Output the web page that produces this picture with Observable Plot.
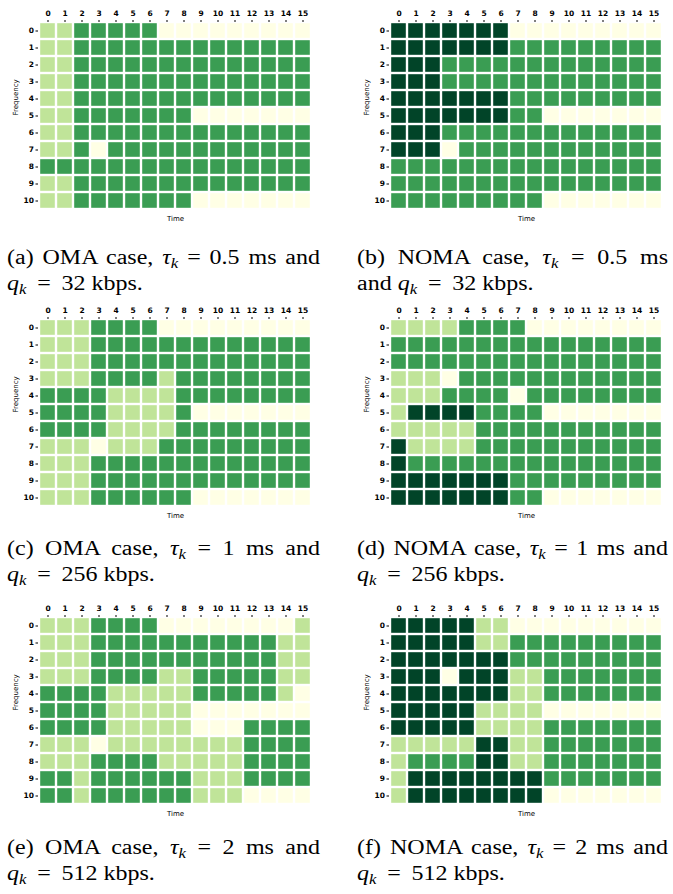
<!DOCTYPE html>
<html>
<head>
<meta charset="utf-8">
<script src="https://cdn.jsdelivr.net/npm/d3@7"></script>
<script src="https://cdn.jsdelivr.net/npm/@observablehq/plot@0.6"></script>
<style>
  html, body { margin: 0; padding: 0; background: #fff; }
  #page { position: relative; width: 673px; height: 894px; overflow: hidden; }
  .panel { position: absolute; width: 330px; height: 225px; }
  .panel svg { max-width: none !important; }
  .cap { position: absolute; font-family: "Liberation Serif", "Times New Roman", serif; font-size: 20.5px; line-height: 20px; white-space: nowrap; color: #000; transform: scaleX(1.17); transform-origin: 0 0; }
  .cap.j { text-align: justify; text-align-last: justify; white-space: normal; }
  .cap i { font-style: italic; }
  .cap sub { font-size: 70%; vertical-align: -0.3em; line-height: 0; }
  .cap .eq { margin: 0 0.2em; }
</style>
</head>
<body>
<div id="page"></div>
<script>
// Tick labels
const timeLabels = d3.range(16);   // 0..15
const freqLabels = d3.range(11);   // 0..10
// Levels: Y = empty, L = light, M = medium, D = dark
const levels = ["Y", "L", "M", "D"];
const levelColors = ["#ffffe5", "#c0e499", "#3a9d53", "#014428"];

// (a) OMA, tau=0.5 ms, q=32 kbps
const gridA = [
  "LLMMMMMYYYYYYYYY",
  "LLMMMMMMMMMMMMMM",
  "LLMMMMMMMMMMMMMM",
  "LLMMMMMMMMMMMMMM",
  "LLMMMMMMMMMMMMMM",
  "LLMMMMMMMYYYYYYY",
  "LLMMMMMMMMMMMMMM",
  "LLMYMMMMMMMMMMMM",
  "MMMMMMMMMMMMMMMM",
  "LLMMMMMMMMMMMMMM",
  "LLMMMMMMMYYYYYYY"
];
// (b) NOMA, tau=0.5 ms, q=32 kbps
const gridB = [
  "DDDDDDDYYYYYYYYY",
  "DDDDDDDMMMMMMMMM",
  "DDDMMMMMMMMMMMMM",
  "DDDMMMMMMMMMMMMM",
  "DDDDDDDMMMMMMMMM",
  "DDDDDDDMMYYYYYYY",
  "DDDMMMMMMMMMMMMM",
  "DDDYMMMMMMMMMMMM",
  "MMMMMMMMMMMMMMMM",
  "MMMMMMMMMMMMMMMM",
  "MMMMMMMMMYYYYYYY"
];
// (c) OMA, tau=1 ms, q=256 kbps
const gridC = [
  "LLLMMMMYYYYYYYYY",
  "LLLMMMMMMMMMMMMM",
  "LLLMMMMMMMMMMMMM",
  "LLLMMMMLMMMMMMMM",
  "MMMMLLLLMMMMMMMM",
  "MMMMLLLLMYYYYYYY",
  "MMMMLLLLMMMMMMMM",
  "LLLYLLLMMMMMMMMM",
  "LLLMMMMMMMMMMMMM",
  "LLLMMMMMMMMMMMMM",
  "LLLMMMMMMYYYYYYY"
];
// (d) NOMA, tau=1 ms, q=256 kbps
const gridD = [
  "LLLLMMMMYYYYYYYY",
  "MMMMMMMMMMMMMMMM",
  "MMMMMMMMMMMMMMMM",
  "LLLYMMMMMMMMMMMM",
  "LLLMMMMYMMMMMMMM",
  "LDDDDMMMMYYYYYYY",
  "LLLLLMMMMMMMMMMM",
  "DLLLLMMMMMMMMMMM",
  "DMMMMMMMMMMMMMMM",
  "DDDDDDDMMMMMMMMM",
  "DDDDDDDMMYYYYYYY"
];
// (e) OMA, tau=2 ms, q=512 kbps
const gridE = [
  "LLLMMMMYYYYYYYYL",
  "LLLMMMMMMMMMMMLL",
  "LLLMMMMMMMMMMMLL",
  "LLLMMMMLLMMMMMLL",
  "MMMMLLLLLMMMMMLY",
  "MMMMLLLLLYYYYYYY",
  "MMMMLLLLLYYYMMMM",
  "LLLYLLLLLLLLMMMM",
  "LLLMMMMLLLLLMMMM",
  "MMLMMMMMMLLLMMMM",
  "MMLMMMMMMLLLYYYY"
];
// (f) NOMA, tau=2 ms, q=512 kbps
const gridF = [
  "DDDDDLLYYYYYYYYY",
  "DDDDDLLMMMMMMMMM",
  "DDDDDDDMMMMMMMMM",
  "DDDYDDDLLMMMMMMM",
  "DDDDDDDLLMMMMMMM",
  "DDDDDLLLLYYYYYYY",
  "DDDDDLLLLMMMMMMM",
  "LLLLLDDLLMMMMMMM",
  "LMMMMDDLLMMMMMMM",
  "LDDDDDDDDMMMMMMM",
  "LDDDDDDDDYYYYYYY"
];

// Caption lines
const captionsLine1 = [
  "(a) OMA case, <i>τ<sub>k</sub></i> = 0.5 ms and",
  "(b) NOMA case, <i>τ<sub>k</sub></i> = 0.5 ms",
  "(c) OMA case, <i>τ<sub>k</sub></i> = 1 ms and",
  "(d) NOMA case, <i>τ<sub>k</sub></i> = 1 ms and",
  "(e) OMA case, <i>τ<sub>k</sub></i> = 2 ms and",
  "(f) NOMA case, <i>τ<sub>k</sub></i> = 2 ms and"
];
const captionsLine2 = [
  "<i>q<sub>k</sub></i> <span class=\"eq\">=</span> 32 kbps.",
  "and <i>q<sub>k</sub></i> <span class=\"eq\">=</span> 32 kbps.",
  "<i>q<sub>k</sub></i> <span class=\"eq\">=</span> 256 kbps.",
  "<i>q<sub>k</sub></i> <span class=\"eq\">=</span> 256 kbps.",
  "<i>q<sub>k</sub></i> <span class=\"eq\">=</span> 512 kbps.",
  "<i>q<sub>k</sub></i> <span class=\"eq\">=</span> 512 kbps."
];

const grids = [gridA, gridB, gridC, gridD, gridE, gridF];
const page = document.getElementById("page");

// layout
const colLeft = [0, 351];
const rowTop = [0, 297, 595];
const capLeft = [7, 357];
const capWidth = [313, 311];
const capBase = [263, 554, 853];
const stretch = 1.17;

function heatmap(grid) {
  const data = grid.flatMap((row, f) => row.split("").map((v, t) => ({t, f, v})));
  return Plot.plot({
    width: 330,
    height: 225,
    marginLeft: 38,
    marginRight: 18,
    marginTop: 21,
    marginBottom: 16,
    style: {fontFamily: "DejaVu Sans, sans-serif", background: "#fff"},
    x: {type: "band", domain: timeLabels, padding: 0, axis: null},
    y: {type: "band", domain: freqLabels, padding: 0, axis: null},
    color: {type: "ordinal", domain: levels, range: levelColors},
    marks: [
      Plot.cell(data, {x: "t", y: "f", fill: "v", inset: 1.2}),
      Plot.axisX({anchor: "top", tickSize: 2, tickPadding: 4, fontSize: 7.5, fontWeight: "bold", label: null}),
      Plot.axisY({anchor: "left", tickSize: 2.5, tickPadding: 2, fontSize: 7.5, fontWeight: "bold", label: null}),
      Plot.text(["Time"], {frameAnchor: "bottom", dy: 11, fontSize: 7, fill: "#000"}),
      Plot.text(["Frequency"], {frameAnchor: "left", dx: -23, rotate: -90, fontSize: 7, fill: "#000"})
    ]
  });
}

grids.forEach((g, i) => {
  const c = i % 2, r = Math.floor(i / 2);
  const div = document.createElement("div");
  div.className = "panel";
  div.style.left = colLeft[c] + "px";
  div.style.top = rowTop[r] + "px";
  div.appendChild(heatmap(g));
  page.appendChild(div);

  const l1 = document.createElement("div");
  l1.className = "cap j";
  l1.style.left = capLeft[c] + "px";
  l1.style.width = (capWidth[c] / stretch) + "px";
  l1.style.top = (capBase[r] - 16) + "px";
  l1.innerHTML = captionsLine1[i];
  page.appendChild(l1);

  const l2 = document.createElement("div");
  l2.className = "cap";
  l2.style.left = capLeft[c] + "px";
  l2.style.top = (capBase[r] - 16 + 26) + "px";
  l2.innerHTML = captionsLine2[i];
  page.appendChild(l2);
});
</script>
</body>
</html>
